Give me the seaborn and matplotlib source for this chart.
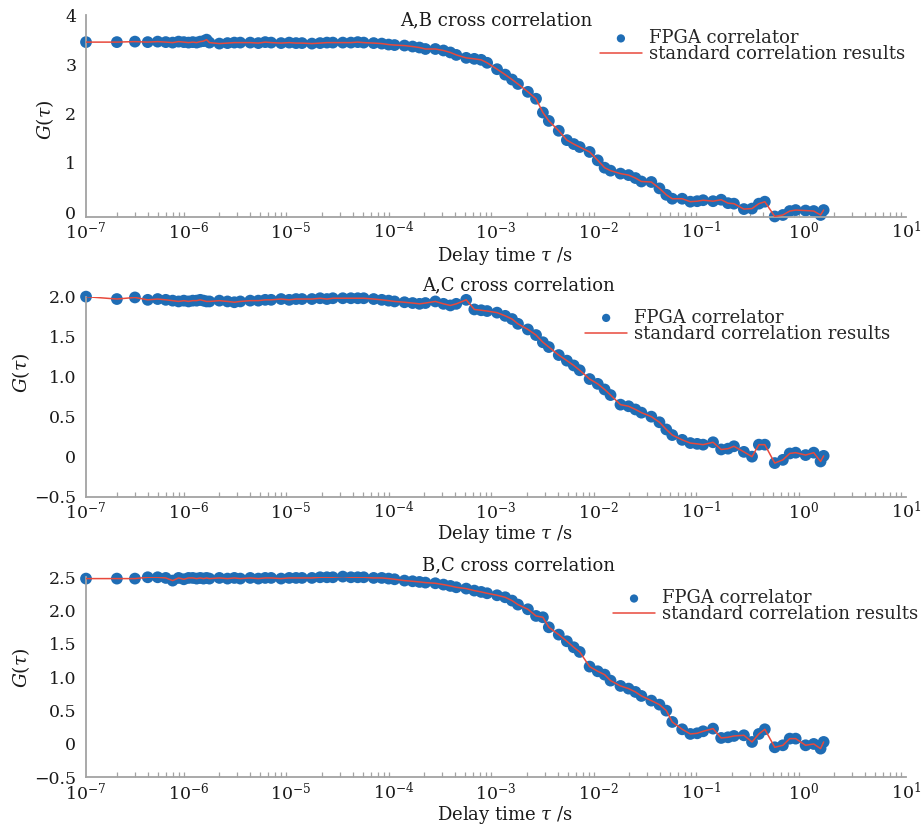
import numpy as np
import pandas as pd
import matplotlib
matplotlib.use("Agg")
import matplotlib.pyplot as plt
from matplotlib.ticker import FixedLocator, FixedFormatter, LogLocator, LogFormatterSciNotation, NullFormatter
import seaborn as sns

# Multi-tau lag channels (in units of the 100 ns sample period)
sample_period = 1e-7
lag_channels = [
    1, 2, 3, 4, 5, 6, 7, 8, 9, 10, 11, 12, 13, 14, 15, 16,
    20, 24, 28, 32, 40, 48, 56, 64, 80, 96, 112, 128,
    160, 192, 224, 256, 320, 384, 448, 512, 640, 768, 896, 1024,
    1280, 1536, 1792, 2048, 2560, 3072, 3584, 4096,
    5120, 6144, 7168, 8192, 10240, 12288, 14336, 16384,
    20480, 24576, 28672, 32768, 40960, 49152, 57344, 65536,
    81920, 98304, 114688, 131072, 163840, 196608, 229376, 262144,
    327680, 393216, 458752, 524288, 655360, 786432, 917504, 1048576,
    1310720, 1572864, 1835008, 2097152, 2621440, 3145728, 3670016, 4194304,
    5242880, 6291456, 7340032, 8388608,
    10485760, 12582912, 14680064, 15728640,
]

g_ab = [
    3.45, 3.45, 3.46, 3.45, 3.46, 3.45, 3.44, 3.46, 3.45, 3.44, 3.45, 3.44, 3.46, 3.47, 3.50, 3.44,
    3.42, 3.43, 3.44, 3.44, 3.44, 3.43, 3.45, 3.44, 3.43, 3.44, 3.43, 3.43,
    3.42, 3.43, 3.44, 3.44, 3.44, 3.44, 3.45, 3.44, 3.43, 3.42, 3.40, 3.39,
    3.38, 3.36, 3.34, 3.31, 3.31, 3.28, 3.24, 3.19,
    3.13, 3.11, 3.09, 3.03, 2.90, 2.79, 2.69, 2.60,
    2.44, 2.30, 2.02, 1.85, 1.65, 1.46, 1.38, 1.32,
    1.22, 1.05, 0.90, 0.84, 0.78, 0.75, 0.69, 0.62,
    0.61, 0.48, 0.35, 0.27, 0.27, 0.21, 0.22, 0.24,
    0.22, 0.25, 0.18, 0.17, 0.06, 0.07, 0.17, 0.21,
    -0.09, -0.06, 0.02, 0.04,
    0.03, 0.02, -0.06, 0.04,
]

g_ac = [
    2.00, 1.97, 1.99, 1.96, 1.97, 1.96, 1.95, 1.94, 1.95, 1.94, 1.95, 1.95, 1.96, 1.95, 1.94, 1.94,
    1.95, 1.94, 1.93, 1.94, 1.95, 1.95, 1.96, 1.96, 1.97, 1.96, 1.97, 1.97,
    1.97, 1.98, 1.97, 1.98, 1.98, 1.98, 1.98, 1.98, 1.97, 1.96, 1.95, 1.94,
    1.93, 1.92, 1.91, 1.92, 1.94, 1.91, 1.89, 1.91,
    1.96, 1.84, 1.83, 1.82, 1.80, 1.76, 1.72, 1.66,
    1.59, 1.52, 1.43, 1.37, 1.27, 1.20, 1.14, 1.08,
    0.97, 0.91, 0.84, 0.77, 0.65, 0.63, 0.59, 0.55,
    0.50, 0.43, 0.34, 0.27, 0.21, 0.17, 0.16, 0.15,
    0.18, 0.09, 0.10, 0.13, 0.06, 0.00, 0.15, 0.15,
    -0.08, -0.04, 0.04, 0.05,
    0.02, 0.05, -0.06, 0.01,
]

g_bc = [
    2.48, 2.48, 2.48, 2.50, 2.50, 2.49, 2.45, 2.49, 2.47, 2.49, 2.49, 2.48, 2.49, 2.48, 2.49, 2.48,
    2.49, 2.48, 2.49, 2.48, 2.49, 2.48, 2.49, 2.49, 2.48, 2.49, 2.49, 2.49,
    2.49, 2.50, 2.50, 2.50, 2.51, 2.50, 2.50, 2.50, 2.49, 2.49, 2.48, 2.47,
    2.45, 2.44, 2.43, 2.42, 2.41, 2.39, 2.37, 2.35,
    2.33, 2.30, 2.28, 2.26, 2.23, 2.20, 2.15, 2.09,
    2.02, 1.92, 1.90, 1.75, 1.64, 1.54, 1.45, 1.38,
    1.16, 1.09, 1.04, 0.95, 0.87, 0.83, 0.78, 0.72,
    0.65, 0.59, 0.50, 0.33, 0.22, 0.15, 0.16, 0.19,
    0.23, 0.09, 0.10, 0.12, 0.13, 0.03, 0.15, 0.22,
    -0.05, -0.02, 0.08, 0.08,
    -0.02, 0.00, -0.07, 0.03,
]

titles = ["A,B cross correlation", "A,C cross correlation", "B,C cross correlation"]
series = [g_ab, g_ac, g_bc]

xtick_values = [1e-7, 1e-6, 1e-5, 1e-4, 1e-3, 1e-2, 1e-1, 1e0, 1e1]
ytick_values = [
    [0, 1, 2, 3, 4],
    [-0.5, 0, 0.5, 1.0, 1.5, 2.0],
    [-0.5, 0, 0.5, 1.0, 1.5, 2.0, 2.5],
]
ytick_labels = [
    ["0", "1", "2", "3", "4"],
    ["\u22120.5", "0", "0.5", "1.0", "1.5", "2.0"],
    ["\u22120.5", "0", "0.5", "1.0", "1.5", "2.0", "2.5"],
]
y_limits = [(-0.095, 4.0), (-0.5, 2.0), (-0.5, 2.5)]

sns.set_theme(style="white")
plt.rcParams["font.family"] = ["DejaVu Serif"]
plt.rcParams["mathtext.fontset"] = "dejavuserif"

BLUE = "#1f6db5"
RED = "#e8493c"
GRAY = "#a3a3a3"
INK = "#1a1a1a"
FS = 13

tau = np.array(lag_channels, dtype=float) * sample_period

fig = plt.figure(figsize=(9.24, 8.3), dpi=100)

# axes rectangles [left, bottom, width, height] in figure fractions
rects = [
    [0.0931, 0.7389, 0.8874, 0.2430],
    [0.0931, 0.4016, 0.8874, 0.2410],
    [0.0931, 0.0635, 0.8874, 0.2410],
]
title_pos = [(0.50, 0.975), (0.527, 1.058), (0.527, 1.061)]
legend_anchor = [(0.627, 0.93), (0.609, 0.94), (0.643, 0.94)]
xlabel_pos = [(0.511, -0.195), (0.511, -0.188), (0.511, -0.188)]
ylabel_pos = [(-0.05, 0.48), (-0.079, 0.62), (-0.079, 0.55)]

for i in range(3):
    ax = fig.add_axes(rects[i])
    df = pd.DataFrame({"tau": tau, "G": series[i]})
    sns.scatterplot(data=df, x="tau", y="G", ax=ax, color=BLUE, s=72,
                    linewidth=0, edgecolor="none", label="FPGA correlator",
                    zorder=2, clip_on=False)
    sns.lineplot(data=df, x="tau", y="G", ax=ax, color=RED, linewidth=1.1,
                 estimator=None, sort=False, label="standard correlation results",
                 zorder=3)

    ax.set_xscale("log")
    ax.set_xlim(1e-7, 1e1)
    ax.set_ylim(*y_limits[i])
    ax.xaxis.set_major_locator(FixedLocator(xtick_values))
    ax.xaxis.set_major_formatter(LogFormatterSciNotation())
    ax.xaxis.set_minor_locator(LogLocator(base=10, subs=np.arange(2, 10), numticks=100))
    ax.xaxis.set_minor_formatter(NullFormatter())
    ax.yaxis.set_major_locator(FixedLocator(ytick_values[i]))
    ax.yaxis.set_major_formatter(FixedFormatter(ytick_labels[i]))

    for side in ("top", "right"):
        ax.spines[side].set_visible(False)
    for side in ("left", "bottom"):
        ax.spines[side].set_color(GRAY)
        ax.spines[side].set_linewidth(1.3)

    ax.tick_params(axis="both", which="major", direction="in", length=6,
                   width=1.0, color=GRAY, labelsize=12.5, labelcolor=INK)
    ax.tick_params(axis="y", which="major", pad=7)
    ax.tick_params(axis="x", which="minor", direction="in", length=3.5,
                   width=0.9, color=GRAY, bottom=True)
    ax.tick_params(axis="x", which="major", pad=3)

    ax.set_xlabel(r"Delay time $\tau$ /s", fontsize=FS, va="center", color=INK)
    ax.xaxis.set_label_coords(*xlabel_pos[i])
    ax.set_ylabel(r"$G(\tau)$", fontsize=13.5, va="center", color=INK)
    ax.yaxis.set_label_coords(*ylabel_pos[i])

    ax.text(title_pos[i][0], title_pos[i][1], titles[i], transform=ax.transAxes,
            ha="center", va="center", fontsize=FS, color=INK)

    ax.legend(loc="upper left", bbox_to_anchor=legend_anchor[i], frameon=False,
              fontsize=FS, handlelength=2.3, handletextpad=0.4, labelspacing=-0.1,
              borderpad=0, borderaxespad=0, scatterpoints=1, markerscale=0.7)
    ax.patch.set_alpha(0)

fig.savefig("out.png", dpi=100)
